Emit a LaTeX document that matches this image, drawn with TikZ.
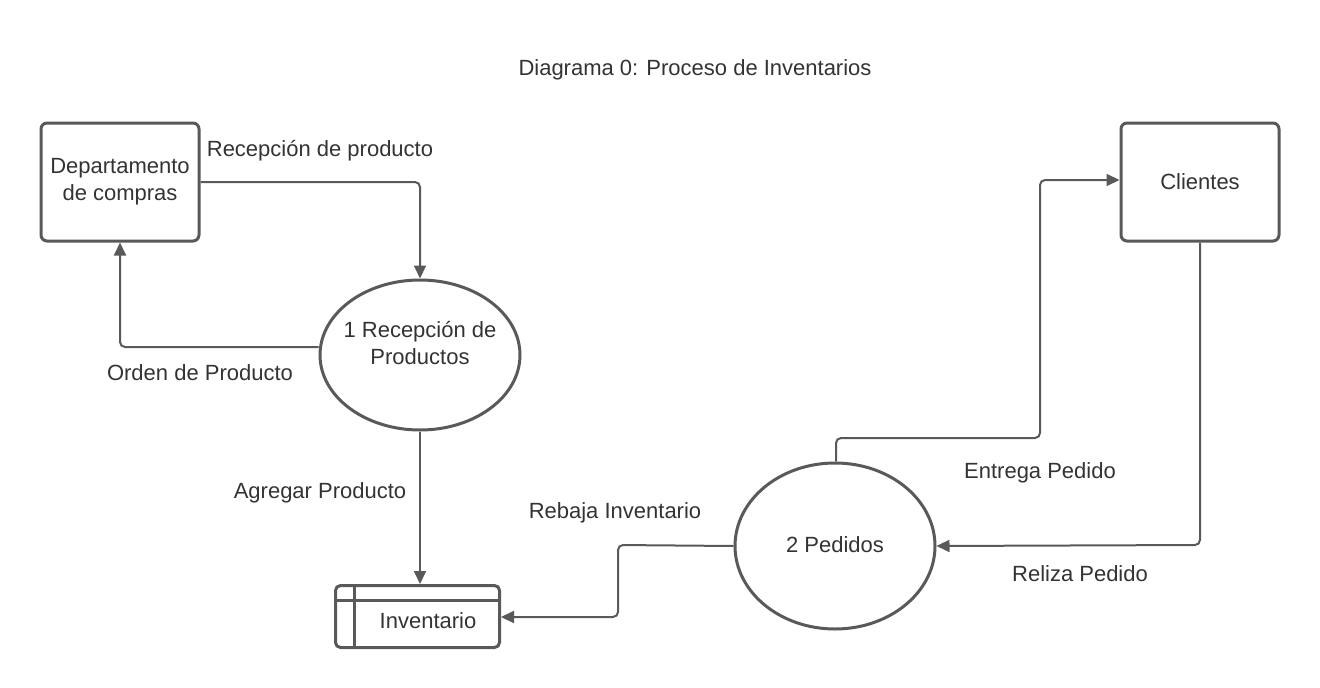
\documentclass[tikz,border=0pt]{standalone}
\usepackage{fontspec}
\setmainfont{Liberation Sans}
\usetikzlibrary{shapes.geometric,arrows.meta,calc}
\definecolor{ln}{HTML}{595959}
\definecolor{tx}{HTML}{333333}
\begin{document}
\begin{tikzpicture}[x=1pt,y=-1pt,
  box/.style={draw=ln,line width=3pt,rounded corners=6pt,minimum width=158pt,minimum height=118pt,inner sep=0pt,align=center,text=tx,font=\fontsize{22}{27}\selectfont},
  proc/.style={draw=ln,line width=3pt,ellipse,inner sep=0pt},
  lbl/.style={text=tx,font=\fontsize{22}{27}\selectfont,inner sep=0pt,align=center},
  flow/.style={draw=ln,line width=2pt,rounded corners=5pt,-{Triangle[length=13pt,width=12pt]}}]
\useasboundingbox (0,0) rectangle (1320,688);
\node[lbl] (title) at (695,70) {Diagrama 0: Proceso de Inventarios};
\node[box] (dep) at (120,182) {Departamento\\de compras};
\node[box] (cli) at (1200,182) {Clientes};
\node[proc,minimum width=200pt,minimum height=150pt] (p1) at (420,355) {};
\node[lbl] (p1t) at (420,343) {1 Recepción de\\Productos};
\node[proc,minimum width=200pt,minimum height=166pt] (p2) at (835,546) {};
\node[lbl] (p2t) at (835,545) {2 Pedidos};
\node[draw=ln,line width=3pt,rounded corners=5pt,minimum width=164pt,minimum height=62pt,inner sep=0pt] (inv) at (417.5,616.5) {};
\draw[ln,line width=3pt] ($(inv.north west)+(0,16)$) -- ($(inv.north east)+(0,16)$);
\draw[ln,line width=3pt] ($(inv.north west)+(20,0)$) -- ($(inv.south west)+(20,0)$);
\node[lbl] (invt) at (428,621) {Inventario};
\coordinate (c1) at (420,182);
\coordinate (c2) at (120,347);
\coordinate (c3) at (618,545);
\coordinate (c4) at (618,617);
\coordinate (c5) at (836,438);
\coordinate (c6) at (1040,438);
\coordinate (c7) at (1040,180);
\coordinate (c8) at (1200,545);
\draw[flow] (dep.east |- c1) -- (c1) -- (p1.north);
\draw[flow] (p1.west |- c2) -- (c2) -- (dep.south -| c2);
\draw[flow] (p1.south) -- (inv.north -| p1.south);
\draw[flow] (p2.west) -- (c3) -- (c4) -- (inv.east |- c4);
\draw[flow] (p2.north -| c5) -- (c5) -- (c6) -- (c7) -- (cli.west |- c7);
\draw[flow] (cli.south) -- (c8) -- (p2.east);
\node[lbl] (l1) at (320,151) {Recepción de producto};
\node[lbl] (l2) at (200,373) {Orden de Producto};
\node[lbl] (l3) at (320,493) {Agregar Producto};
\node[lbl] (l4) at (615,513) {Rebaja Inventario};
\node[lbl] (l5) at (1040,473) {Entrega Pedido};
\node[lbl] (l6) at (1080,574) {Reliza Pedido};
\end{tikzpicture}
\end{document}
